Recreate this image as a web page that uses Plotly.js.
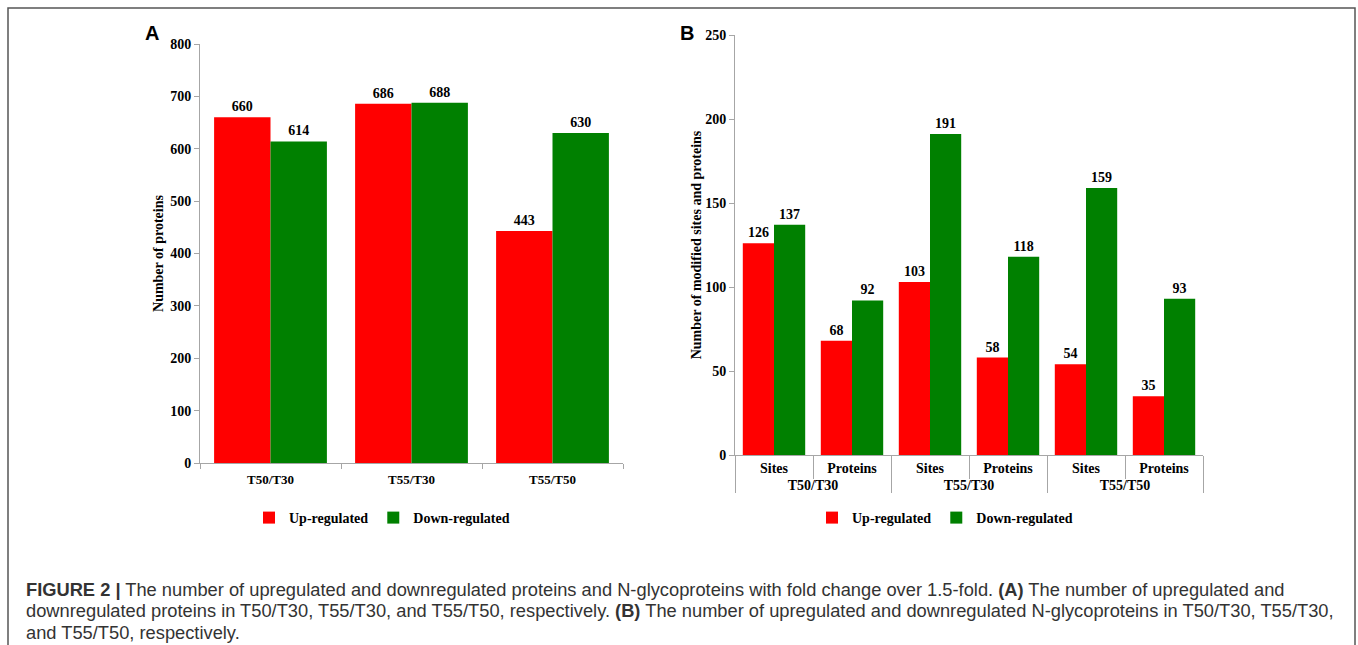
<!DOCTYPE html>
<html>
<head>
<meta charset="utf-8">
<script src="https://cdn.plot.ly/plotly-3.0.1.min.js"></script>
<style>html,body{margin:0;padding:0;background:#fff;}#chart{width:1358px;height:645px;}</style>
</head>
<body>
<div id="chart"></div>
<script>
// ---- Data ----
const categoriesA = ['T50/T30', 'T55/T30', 'T55/T50'];
const upA = [660, 686, 443];
const downA = [614, 688, 630];

const groupsB = ['T50/T30', 'T50/T30', 'T55/T30', 'T55/T30', 'T55/T50', 'T55/T50'];
const subsB = ['Sites', 'Proteins', 'Sites', 'Proteins', 'Sites', 'Proteins'];
const upB = [126, 68, 103, 58, 54, 35];
const downB = [137, 92, 191, 118, 159, 93];

const seriesNames = ['Up-regulated', 'Down-regulated'];
const yTicksA = [0, 100, 200, 300, 400, 500, 600, 700, 800];
const yTicksB = [0, 50, 100, 150, 200, 250];

const captionLines = [
  '<b>FIGURE 2 |</b> The number of upregulated and downregulated proteins and N-glycoproteins with fold change over 1.5-fold. <b>(A)</b> The number of upregulated and',
  'downregulated proteins in T50/T30, T55/T30, and T55/T50, respectively. <b>(B)</b> The number of upregulated and downregulated N-glycoproteins in T50/T30, T55/T30,',
  'and T55/T50, respectively.'
];

// ---- Styling ----
const W = 1358, H = 645;
const px = v => v / W;
const py = v => (H - v) / H;
const RED = '#ff0000', GREEN = '#008000';
const serif = 'Liberation Serif, Times New Roman, serif';
const boldSerif = (s) => ({family: serif, size: s, color: '#000', weight: 'bold'});
const axisGray = '#a6a6a6';

const barCommon = {
  type: 'bar',
  texttemplate: '%{y}',
  textposition: 'outside',
  cliponaxis: false,
  textfont: boldSerif(14),
  hoverinfo: 'x+y+name'
};

const traces = [
  Object.assign({}, barCommon, {x: categoriesA, y: upA, name: seriesNames[0], marker: {color: RED}, xaxis: 'x', yaxis: 'y', legend: 'legend'}),
  Object.assign({}, barCommon, {x: categoriesA, y: downA, name: seriesNames[1], marker: {color: GREEN}, xaxis: 'x', yaxis: 'y', legend: 'legend'}),
  Object.assign({}, barCommon, {x: [groupsB, subsB], y: upB, name: seriesNames[0], marker: {color: RED}, xaxis: 'x2', yaxis: 'y2', legend: 'legend2'}),
  Object.assign({}, barCommon, {x: [groupsB, subsB], y: downB, name: seriesNames[1], marker: {color: GREEN}, xaxis: 'x2', yaxis: 'y2', legend: 'legend2'})
];

const yAxisCommon = {
  showgrid: false,
  zeroline: false,
  showline: true,
  linecolor: axisGray,
  linewidth: 1,
  ticks: 'outside',
  ticklen: 5,
  tickcolor: axisGray,
  tickfont: boldSerif(14),
  fixedrange: true
};

const layout = {
  width: W,
  height: H,
  margin: {l: 0, r: 0, t: 0, b: 0},
  paper_bgcolor: '#fff',
  plot_bgcolor: '#fff',
  barmode: 'group',
  bargap: 0.2,
  bargroupgap: 0,
  showlegend: true,
  xaxis: {
    domain: [px(200), px(623)],
    anchor: 'y',
    type: 'category',
    showline: true,
    linecolor: axisGray,
    ticks: 'outside',
    tickson: 'boundaries',
    ticklen: 5,
    tickcolor: axisGray,
    tickfont: boldSerif(13),
    ticklabelstandoff: 4,
    showgrid: false,
    fixedrange: true
  },
  yaxis: Object.assign({}, yAxisCommon, {
    domain: [py(463), py(44)],
    anchor: 'x',
    range: [0, 800],
    tickvals: yTicksA,
    title: {text: 'Number of proteins', font: boldSerif(14), standoff: 3}
  }),
  xaxis2: {
    domain: [px(735), px(1203)],
    anchor: 'y2',
    type: 'multicategory',
    showline: true,
    linecolor: axisGray,
    ticks: 'outside',
    tickson: 'boundaries',
    ticklen: 23,
    tickcolor: axisGray,
    tickfont: boldSerif(14),
    showdividers: true,
    dividercolor: axisGray,
    dividerwidth: 1,
    showgrid: false,
    fixedrange: true
  },
  yaxis2: Object.assign({}, yAxisCommon, {
    domain: [py(455), py(35)],
    anchor: 'x2',
    range: [0, 250],
    tickvals: yTicksB,
    title: {text: 'Number of modified sites and proteins', font: boldSerif(14), standoff: 0}
  }),
  legend: {
    orientation: 'h',
    x: px(382), y: py(518),
    xanchor: 'center', yanchor: 'middle',
    font: boldSerif(14),
    itemwidth: 30,
    traceorder: 'normal',
    bgcolor: 'rgba(0,0,0,0)'
  },
  legend2: {
    orientation: 'h',
    x: px(945), y: py(518),
    xanchor: 'center', yanchor: 'middle',
    font: boldSerif(14),
    itemwidth: 30,
    traceorder: 'normal',
    bgcolor: 'rgba(0,0,0,0)'
  },
  annotations: [
    {xref: 'paper', yref: 'paper', x: px(152), y: py(33), text: '<b>A</b>', showarrow: false, xanchor: 'center', yanchor: 'middle', font: {family: 'Liberation Sans, Arial, sans-serif', size: 20, color: '#000'}},
    {xref: 'paper', yref: 'paper', x: px(687), y: py(33), text: '<b>B</b>', showarrow: false, xanchor: 'center', yanchor: 'middle', font: {family: 'Liberation Sans, Arial, sans-serif', size: 20, color: '#000'}}
  ].concat(captionLines.map((t, i) => ({
    xref: 'paper', yref: 'paper',
    x: px(24), y: py(589 + i * 21.5),
    text: t, showarrow: false, xanchor: 'left', yanchor: 'middle', align: 'left',
    font: {family: 'Liberation Sans, Arial, sans-serif', size: 18.3, color: '#333'}
  }))),
  shapes: [
    {type: 'rect', xref: 'paper', yref: 'paper', x0: px(8), x1: px(1355), y0: py(660), y1: py(8), line: {color: '#555', width: 1.5}, fillcolor: 'rgba(0,0,0,0)', layer: 'below'}
  ]
};

Plotly.newPlot('chart', traces, layout, {displayModeBar: false, staticPlot: true});
</script>
</body>
</html>
